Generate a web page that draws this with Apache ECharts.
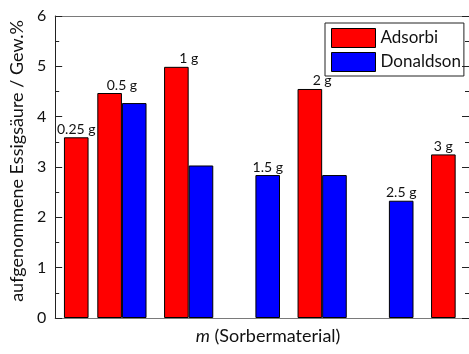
<!DOCTYPE html>
<html>
<head>
<meta charset="utf-8">
<script src="https://cdn.jsdelivr.net/npm/echarts@6/dist/echarts.min.js"></script>
<style>
  html, body { margin: 0; padding: 0; background: #fff; }
  #chart { width: 469px; height: 354px; }
</style>
</head>
<body>
<div id="chart"></div>
<script>
// Sorbent mass in g for each bar
const adsorbiMass = [0.25, 0.5, 1, 2, 3];
const adsorbiUptake = [3.59, 4.47, 4.99, 4.55, 3.25];
const donaldsonMass = [0.5, 1, 1.5, 2, 2.5];
const donaldsonUptake = [4.27, 3.03, 2.84, 2.84, 2.33];
const yTicks = [0, 1, 2, 3, 4, 5, 6];

const FONT = 'Lato';
const BAR_W = 24.6;

// One label per mass: on the lone bar, or centred over a pair above the taller bar
function buildItems(mass, vals, otherMass, otherVals, isLeft) {
  return mass.map((m, i) => {
    const j = otherMass.indexOf(m);
    let show = true;
    let offset = [0, 0];
    if (j >= 0) {
      show = vals[i] >= otherVals[j];
      offset = [isLeft ? BAR_W / 2 : -BAR_W / 2, 0];
    }
    return { value: [m, vals[i]], label: { show: show, offset: offset } };
  });
}

const chart = echarts.init(document.getElementById('chart'), null, { renderer: 'canvas' });

const labelStyle = {
  position: 'top',
  distance: 1,
  fontFamily: FONT,
  fontSize: 14,
  color: '#111',
  formatter: p => p.value[0] + ' g'
};

chart.setOption({
  animation: false,
  backgroundColor: '#fff',
  textStyle: { fontFamily: FONT },
  grid: { left: 52, top: 16, right: 0, bottom: 36 },
  legend: {
    left: 325,
    top: 23,
    orient: 'vertical',
    itemWidth: 44,
    itemHeight: 19,
    itemGap: 4,
    padding: [5, 3, 4, 6],
    borderColor: '#222',
    borderWidth: 1,
    icon: 'rect',
    itemStyle: { borderColor: '#000', borderWidth: 1 },
    textStyle: { fontFamily: FONT, fontSize: 17, color: '#111' },
    data: ['Adsorbi', 'Donaldson']
  },
  xAxis: [
    {
      type: 'value',
      position: 'bottom',
      min: 0,
      max: 3.1,
      axisLine: { show: true, lineStyle: { color: '#7a7a7a', width: 1 } },
      axisTick: { show: false },
      axisLabel: { show: false },
      splitLine: { show: false },
      name: '{it|m} (Sorbermaterial)',
      nameLocation: 'middle',
      nameGap: 9,
      nameTextStyle: {
        fontFamily: FONT,
        fontSize: 18,
        color: '#111',
        padding: [0, 0, 0, 12],
        rich: { it: { fontStyle: 'italic', fontFamily: FONT, fontSize: 18, color: '#111' } }
      }
    },
    {
      type: 'value',
      position: 'top',
      min: 0,
      max: 3.1,
      axisLine: { show: true, onZero: false, lineStyle: { color: '#7a7a7a', width: 1 } },
      axisTick: { show: false },
      axisLabel: { show: false },
      splitLine: { show: false }
    }
  ],
  yAxis: [
    {
      type: 'value',
      position: 'left',
      min: yTicks[0],
      max: yTicks[yTicks.length - 1],
      interval: 1,
      axisLine: { show: true, onZero: false, lineStyle: { color: '#222', width: 1 } },
      axisTick: { show: true, inside: true, length: 7, lineStyle: { color: '#222' } },
      minorTick: { show: true, splitNumber: 2, length: 4, lineStyle: { color: '#222' } },
      axisLabel: { margin: 9, fontFamily: FONT, fontSize: 16, color: '#111' },
      splitLine: { show: false },
      name: 'aufgenommene Essigsäure / Gew.%',
      nameLocation: 'middle',
      nameRotate: 90,
      nameGap: 27,
      nameTextStyle: { fontFamily: FONT, fontSize: 18, color: '#111', padding: [0, 0, 0, 12] }
    },
    {
      type: 'value',
      position: 'right',
      min: yTicks[0],
      max: yTicks[yTicks.length - 1],
      interval: 1,
      axisLine: { show: true, onZero: false, lineStyle: { color: '#222', width: 1 } },
      axisTick: { show: true, inside: true, length: 7, lineStyle: { color: '#222' } },
      minorTick: { show: true, splitNumber: 2, length: 4, lineStyle: { color: '#222' } },
      axisLabel: { show: false },
      splitLine: { show: false }
    }
  ],
  series: [
    {
      name: 'Adsorbi',
      type: 'bar',
      barWidth: BAR_W,
      barGap: '0%',
      itemStyle: { color: '#ff0000', borderColor: '#000', borderWidth: 1 },
      label: labelStyle,
      data: buildItems(adsorbiMass, adsorbiUptake, donaldsonMass, donaldsonUptake, true)
    },
    {
      name: 'Donaldson',
      type: 'bar',
      barWidth: BAR_W,
      barGap: '0%',
      itemStyle: { color: '#0000ff', borderColor: '#000', borderWidth: 1 },
      label: labelStyle,
      data: buildItems(donaldsonMass, donaldsonUptake, adsorbiMass, adsorbiUptake, false)
    }
  ]
});
</script>
</body>
</html>
